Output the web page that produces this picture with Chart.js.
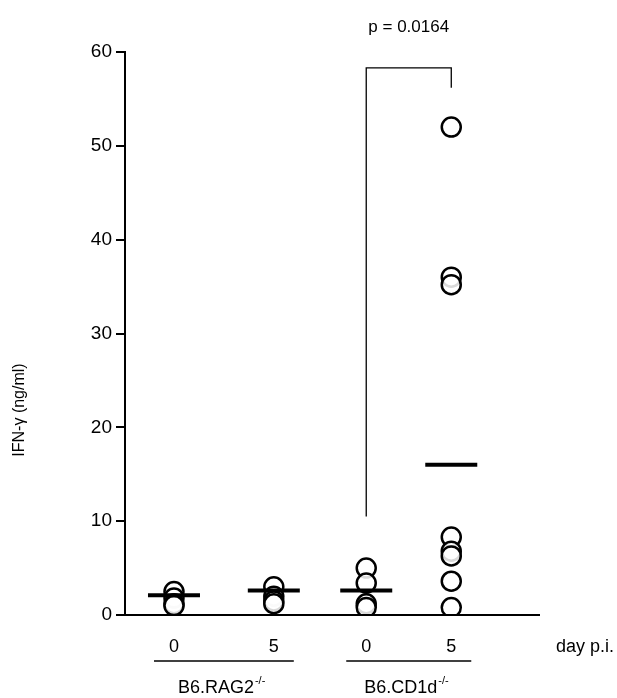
<!DOCTYPE html>
<html>
<head>
<meta charset="utf-8">
<script src="https://cdn.jsdelivr.net/npm/chart.js@4"></script>
<style>
  body { margin: 0; background: #fff; }
  #wrap { width: 617px; height: 698px; }
</style>
</head>
<body>
<div id="wrap"><canvas id="c" width="617" height="698"></canvas></div>
<script>
// groups on the x axis
var dayLabels = ['0', '5', '0', '5'];
var groupPos = [0, 1.08, 2.08, 3];
var strainLabels = ['B6.RAG2', 'B6.CD1d'];
// IFN-gamma values (ng/ml) per group
var rag2Day0 = [2.5, 1.8, 1.2, 1.0];
var rag2Day5 = [3.0, 2.0, 1.5, 1.2];
var cd1dDay0 = [5.0, 3.4, 1.2, 0.8];
var cd1dDay5 = [52, 36, 35.2, 8.3, 6.8, 6.3, 3.6, 0.8];
var means = [2.1, 2.6, 2.6, 16];
var yTicks = [0, 10, 20, 30, 40, 50, 60];
// significance bracket between group 3 and 4
var bracketY = [10.5, 58.3, 58.3, 56.2];
var pText = 'p = 0.0164';

var groups = [rag2Day0, rag2Day5, cd1dDay0, cd1dDay5];
var points = [];
groups.forEach(function (g, i) {
    g.forEach(function (v) { points.push({ x: groupPos[i], y: v }); });
});
var meanPts = means.map(function (m, i) { return { x: groupPos[i], y: m }; });
var bracketPts = [
    { x: groupPos[2], y: bracketY[0] }, { x: groupPos[2], y: bracketY[1] },
    { x: groupPos[3], y: bracketY[2] }, { x: groupPos[3], y: bracketY[3] }
];

var F = '"Liberation Sans", Arial, sans-serif';

var extras = {
    id: 'extras',
    afterDraw: function (chart) {
        var ctx = chart.ctx, xs = chart.scales.x, ys = chart.scales.y;
        var a = chart.chartArea;
        ctx.save();
        ctx.strokeStyle = '#000';
        ctx.fillStyle = '#000';
        // bottom axis line
        ctx.lineWidth = 2;
        ctx.beginPath();
        ctx.moveTo(a.left, ys.getPixelForValue(0));
        ctx.lineTo(a.right, ys.getPixelForValue(0));
        ctx.stroke();
        // day labels
        ctx.font = '18px ' + F;
        ctx.textAlign = 'center';
        ctx.textBaseline = 'middle';
        dayLabels.forEach(function (l, i) {
            ctx.fillText(l, xs.getPixelForValue(groupPos[i]), 647);
        });
        ctx.textAlign = 'left';
        ctx.fillText('day p.i.', 556, 647);
        // group underlines and strain labels
        ctx.lineWidth = 1.5;
        strainLabels.forEach(function (s, k) {
            var x0 = xs.getPixelForValue(groupPos[k * 2]) - 20;
            var x1 = xs.getPixelForValue(groupPos[k * 2 + 1]) + 20;
            ctx.beginPath();
            ctx.moveTo(x0, 661);
            ctx.lineTo(x1, 661);
            ctx.stroke();
            ctx.font = '18px ' + F;
            ctx.textAlign = 'left';
            var w = ctx.measureText(s).width;
            var sx = (x0 + x1) / 2 - (w + 16) / 2;
            ctx.fillText(s, sx, 688);
            ctx.font = '11px ' + F;
            ctx.fillText('-/-', sx + w + 1, 681);
        });
        // p value
        ctx.font = '17px ' + F;
        ctx.textAlign = 'center';
        ctx.fillText(pText, (xs.getPixelForValue(groupPos[2]) + xs.getPixelForValue(groupPos[3])) / 2, 27);
        // y title
        ctx.translate(20, 410);
        ctx.rotate(-Math.PI / 2);
        ctx.font = '16px ' + F;
        ctx.fillText('IFN-\u03B3 (ng/ml)', 0, 0);
        ctx.restore();
    }
};

new Chart(document.getElementById('c'), {
    type: 'scatter',
    data: {
        datasets: [
            {
                data: bracketPts, showLine: true, borderColor: '#000',
                borderWidth: 1.3, pointRadius: 0, order: 3
            },
            {
                data: points, pointRadius: 9.5, pointBorderWidth: 2.5,
                pointBorderColor: '#000', pointBackgroundColor: 'rgba(255,255,255,0.85)', order: 2
            },
            {
                data: meanPts, pointStyle: 'line', pointRadius: 26,
                pointBorderWidth: 4, pointBorderColor: '#000', order: 1
            }
        ]
    },
    options: {
        responsive: false,
        animation: false,
        plugins: { legend: { display: false }, tooltip: { enabled: false } },
        layout: { padding: { top: 52, right: 77, bottom: 83, left: 0 } },
        scales: {
            x: { type: 'linear', min: -0.53, max: 3.96, display: false },
            y: {
                min: 0, max: 60,
                afterFit: function (s) { s.width = 125; },
                afterBuildTicks: function (s) { s.ticks = yTicks.map(function (v) { return { value: v }; }); },
                grid: { drawOnChartArea: false, drawTicks: true, tickLength: 9, color: '#000', lineWidth: 2 },
                border: { color: '#000', width: 2 },
                ticks: { color: '#000', font: { size: 19, family: F }, padding: 4 }
            }
        }
    },
    plugins: [extras]
});
</script>
</body>
</html>
